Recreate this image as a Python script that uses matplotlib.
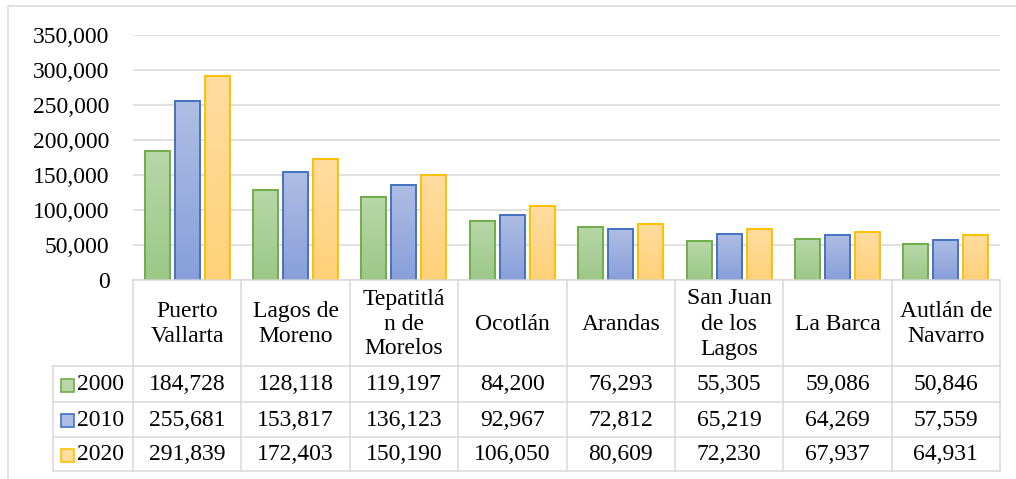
import numpy as np
import matplotlib.pyplot as plt
from matplotlib.colors import LinearSegmentedColormap

plt.rcParams['font.family'] = ['Liberation Serif', 'DejaVu Serif']

# data
cities = ['Puerto\nVallarta', 'Lagos de\nMoreno', 'Tepatitlá\nn de\nMorelos', 'Ocotlán',
          'Arandas', 'San Juan\nde los\nLagos', 'La Barca', 'Autlán de\nNavarro']
years = ['2000', '2010', '2020']
pop_2000 = [184728, 128118, 119197, 84200, 76293, 55305, 59086, 50846]
pop_2010 = [255681, 153817, 136123, 92967, 72812, 65219, 64269, 57559]
pop_2020 = [291839, 172403, 150190, 106050, 80609, 72230, 67937, 64931]
series = [pop_2000, pop_2010, pop_2020]

edges = ['#70ad47', '#4472c4', '#ffc000']
grads = [('#b7d7a8', '#9cc888'), ('#aebde3', '#889fda'), ('#ffdca0', '#ffd179')]
grid_c = '#d9d9d9'
fs = 17

W, H = 1016, 479
fig = plt.figure(figsize=(W / 100, H / 100), dpi=100)

x0, x1 = 133, 1000
y_top, y_axis = 35, 280
ax = fig.add_axes([x0 / W, 1 - y_axis / H, (x1 - x0) / W, (y_axis - y_top) / H])
n = len(cities)
x = np.arange(n)
bw = 0.23
step = 0.277
for k, vals in enumerate(series):
    bars = ax.bar(x + (k - 1) * step, vals, bw, facecolor='none',
                  edgecolor=edges[k], linewidth=1.4, zorder=3)
    cmap = LinearSegmentedColormap.from_list('g%d' % k, [grads[k][1], grads[k][0]])
    for b in bars:
        bx, by = b.get_x(), b.get_y()
        ax.imshow(np.linspace(0, 1, 64).reshape(-1, 1), cmap=cmap, origin='lower',
                  extent=[bx, bx + b.get_width(), by, by + b.get_height()],
                  aspect='auto', zorder=2)
ax.set_xlim(-0.5, n - 0.5)
ax.set_ylim(0, 350000)
ax.set_yticks(np.arange(0, 350001, 50000))
ax.set_yticklabels(['{:,}'.format(v) if v else '0' for v in range(0, 350001, 50000)],
                   fontsize=fs)
ax.tick_params(axis='y', length=0, pad=17)
ax.set_xticks([])
ax.grid(axis='y', color=grid_c, linewidth=1.1, zorder=0)
for s in ax.spines.values():
    s.set_visible(False)

# table drawn in pixel coordinates
tb = fig.add_axes([0, 0, 1, 1], facecolor='none')
tb.set_xlim(0, W)
tb.set_ylim(H, 0)
tb.axis('off')

# outer chart frame
tb.plot([8, 8, W], [H, 6, 6], color=grid_c, lw=1.1)

cw = (x1 - x0) / n
rows = [280, 366, 402, 437, 471]
tl = 53
lw = 1.1
tb.plot([x0, x1], [rows[0], rows[0]], color=grid_c, lw=lw)
for r in rows[1:]:
    tb.plot([tl, x1], [r, r], color=grid_c, lw=lw)
tb.plot([tl, tl], [rows[1], rows[-1]], color=grid_c, lw=lw)
for i in range(n + 1):
    xx = x0 + i * cw
    tb.plot([xx, xx], [rows[0], rows[-1]], color=grid_c, lw=lw)

for i, c in enumerate(cities):
    tb.text(x0 + (i + 0.5) * cw, (rows[0] + rows[1]) / 2 + 1, c, ha='center', va='center',
            fontsize=fs, linespacing=1.25)

for k, vals in enumerate(series):
    yc = (rows[k + 1] + rows[k + 2]) / 2 + 1
    tb.add_patch(plt.Rectangle((61, yc - 6.5), 13, 13, facecolor=grads[k][0],
                               edgecolor=edges[k], lw=1.2))
    tb.text(77, yc, years[k], ha='left', va='center', fontsize=fs)
    for i, v in enumerate(vals):
        tb.text(x0 + (i + 0.5) * cw, yc, '{:,}'.format(v), ha='center', va='center',
                fontsize=fs)

fig.savefig('out.png', dpi=100)
